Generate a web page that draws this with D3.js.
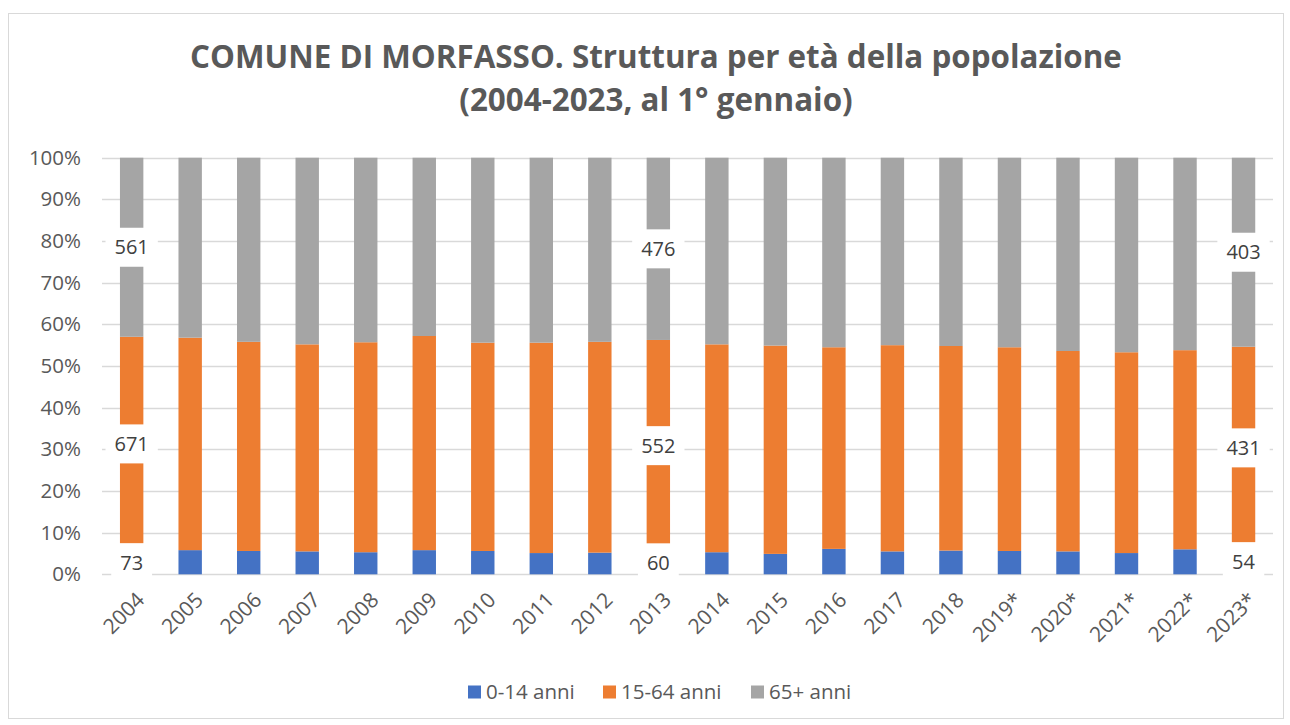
<!DOCTYPE html>
<html><head><meta charset="utf-8">
<script src="https://cdn.jsdelivr.net/npm/d3@7"></script>
<style>html,body{margin:0;padding:0;background:#fff;}svg{display:block;}</style>
</head><body>
<svg id="chart" width="1290" height="725"></svg>
<script>
const years = ["2004","2005","2006","2007","2008","2009","2010","2011","2012","2013","2014","2015","2016","2017","2018","2019*","2020*","2021*","2022*","2023*"];
const seriesNames = ["0-14 anni","15-64 anni","65+ anni"];
// shares in %
const young   = [5.59,5.8,5.6,5.5,5.3,5.8,5.6,5.1,5.2,5.51,5.3,4.9,6.1,5.5,5.7,5.6,5.5,5.1,6.0,6.08];
const working = [51.42,51.0,50.2,49.7,50.4,51.4,50.0,50.5,50.6,50.74,49.9,50.0,48.4,49.5,49.1,48.9,48.1,48.2,47.8,48.54];
const elderly = [42.99,43.2,44.2,44.8,44.3,42.8,44.4,44.4,44.2,43.75,44.8,45.1,45.5,45.0,45.2,45.5,46.4,46.7,46.2,45.38];
// data labels shown in the chart
const labelYears   = ["2004","2013","2023*"];
const labelYoung   = [73,60,54];
const labelWorking = [671,552,431];
const labelElderly = [561,476,403];
const yTicks = [0,0.1,0.2,0.3,0.4,0.5,0.6,0.7,0.8,0.9,1];
const colors = ["#4472C4","#ED7D31","#A5A5A5"];

const svg = d3.select("#chart");
const FONT = "'Open Sans', 'Noto Sans', sans-serif";
const textColor = "#595959";

svg.append("rect").attr("x",8.5).attr("y",13.5).attr("width",1275).attr("height",705)
  .attr("fill","#fff").attr("stroke","#d9d9d9").attr("stroke-width",1);

const x = d3.scaleBand().domain(years).range([102.4,1272.8]).paddingInner(0.6).paddingOuter(0.3);
const y = d3.scaleLinear().domain([0,1]).range([574.3,157.7]);

// gridlines
svg.append("g").selectAll("line").data(yTicks).join("line")
  .attr("x1",102).attr("x2",1273)
  .attr("y1",d=>Math.round(y(d))+0.5).attr("y2",d=>Math.round(y(d))+0.5)
  .attr("stroke","#d9d9d9").attr("stroke-width",1.3);

// y axis labels
const yAxis = d3.axisLeft(y).tickValues(yTicks).tickFormat(d3.format(".0%")).tickSize(0).tickPadding(0);
const yg = svg.append("g").attr("transform","translate(81,0)").call(yAxis);
yg.select(".domain").remove();
yg.selectAll("text").attr("font-family",FONT).attr("font-size",20.5).attr("fill",textColor);

// stacked data
const rows = years.map((yr,i)=>({year:yr, "0-14 anni":young[i], "15-64 anni":working[i], "65+ anni":elderly[i]}));
const stack = d3.stack().keys(seriesNames).offset(d3.stackOffsetExpand);
const layers = stack(rows);

svg.append("g").selectAll("g").data(layers).join("g")
  .attr("fill",(d,i)=>colors[i])
  .selectAll("rect").data(d=>d).join("rect")
  .attr("x",d=>x(d.data.year)).attr("width",x.bandwidth())
  .attr("y",d=>y(d[1])).attr("height",d=>y(d[0])-y(d[1]));

// data labels
const labelSets = [labelYoung,labelWorking,labelElderly];
const lg = svg.append("g");
labelYears.forEach((yr,j)=>{
  const idx = years.indexOf(yr);
  layers.forEach((layer,k)=>{
    const seg = layer[idx];
    const cx = x(yr)+x.bandwidth()/2;
    const cy = y((seg[0]+seg[1])/2);
    const g = lg.append("g");
    const t = g.append("text").attr("x",cx).attr("y",cy).attr("dy","0.35em")
      .attr("text-anchor","middle").attr("font-family",FONT).attr("font-size",20)
      .attr("fill","#404040").text(labelSets[k][j]);
    const bb = t.node().getBBox();
    g.insert("rect","text").attr("x",cx-bb.width/2-9).attr("y",cy-19.5)
      .attr("width",bb.width+18).attr("height",39).attr("fill","#fff");
  });
});

// x axis labels
svg.append("g").selectAll("text").data(years).join("text")
  .attr("transform",d=>`translate(${x(d)+x.bandwidth()/2+9},${596}) rotate(-45)`)
  .attr("text-anchor","end").attr("dy","0.35em")
  .attr("font-family",FONT).attr("font-size",21).attr("fill",textColor)
  .text(d=>d);

// title
const titleLines = ["COMUNE DI MORFASSO. Struttura per età della popolazione","(2004-2023, al 1° gennaio)"];
const tl = svg.append("text").attr("x",656).attr("y",68).attr("text-anchor","middle")
  .attr("font-family",FONT).attr("font-weight","bold").attr("font-size",28).attr("fill",textColor)
  .text(titleLines[0]);
const w = tl.node().getComputedTextLength();
const fs = 28*932/w;
tl.attr("font-size",fs);
svg.append("text").attr("x",656).attr("y",111).attr("text-anchor","middle")
  .attr("font-family",FONT).attr("font-weight","bold").attr("font-size",fs).attr("fill",textColor)
  .text(titleLines[1]);

// legend
const legendX = [468,603,751];
const leg = svg.append("g");
seriesNames.forEach((n,i)=>{
  leg.append("rect").attr("x",legendX[i]).attr("y",685.5).attr("width",13).attr("height",13).attr("fill",colors[i]);
  leg.append("text").attr("x",legendX[i]+18).attr("y",698.5)
    .attr("font-family",FONT).attr("font-size",20.5).attr("fill",textColor).text(n);
});
</script>
</body></html>
